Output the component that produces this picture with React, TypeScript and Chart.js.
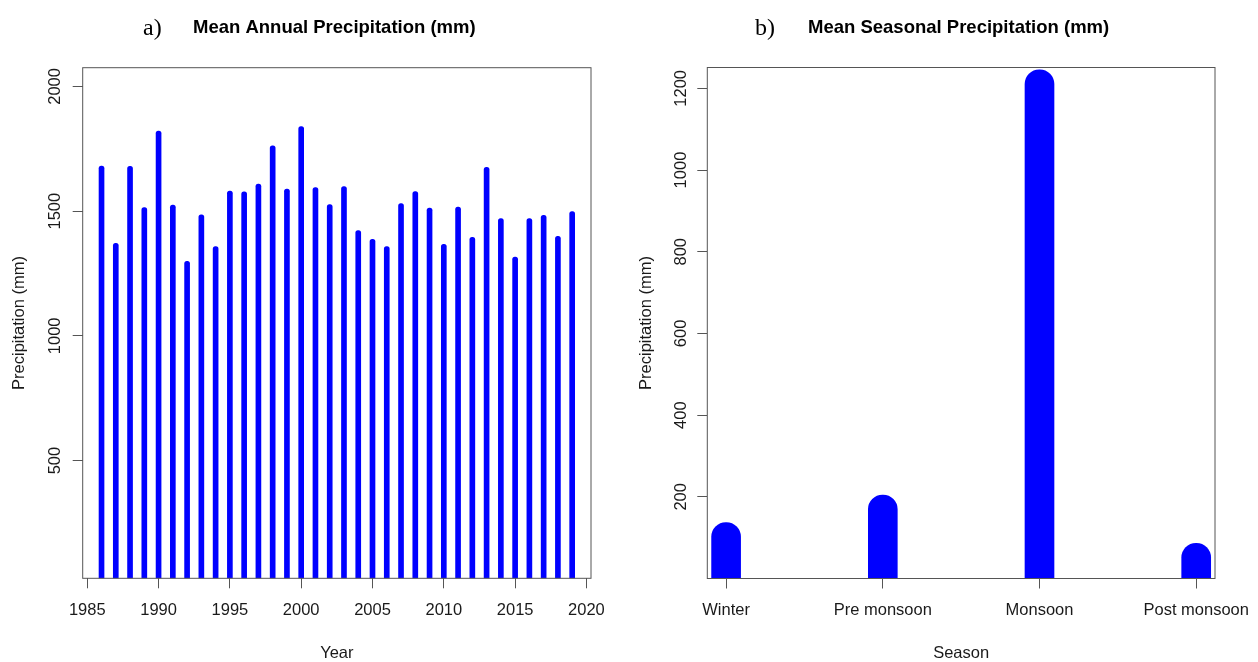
import React, { useEffect, useRef } from "react";
import { Chart, registerables } from "chart.js";

Chart.register(...registerables);

// ---- Data ----
const years = [
  1986, 1987, 1988, 1989, 1990, 1991, 1992, 1993, 1994, 1995, 1996, 1997,
  1998, 1999, 2000, 2001, 2002, 2003, 2004, 2005, 2006, 2007, 2008, 2009,
  2010, 2011, 2012, 2013, 2014, 2015, 2016, 2017, 2018, 2019,
];
const annualPrecip = [
  1681, 1371, 1680, 1514, 1821, 1524, 1299, 1485, 1358, 1580, 1577, 1608,
  1762, 1588, 1839, 1594, 1526, 1598, 1422, 1387, 1358, 1530, 1578, 1512,
  1367, 1516, 1395, 1676, 1470, 1316, 1470, 1483, 1399, 1498,
];
const yearTicks = [1985, 1990, 1995, 2000, 2005, 2010, 2015, 2020];
const annualYTicks = [500, 1000, 1500, 2000];

const seasons = ["Winter", "Pre monsoon", "Monsoon", "Post monsoon"];
const seasonPos = [1, 2, 3, 4];
const seasonalPrecip = [137, 204, 1245, 86];
const seasonalYTicks = [200, 400, 600, 800, 1000, 1200];

// ---- Styles ----
const SANS = "'Liberation Sans', Arial, Helvetica, sans-serif";
const SERIF = "'Liberation Serif', 'Times New Roman', serif";
const TEXT = "#1a1a1a";
const AXIS = "#555555";
const BLUE = "#0000ff";
const W = 1258;
const H = 662;

type PanelCfg = {
  letter: string;
  letterX: number;
  title: string;
  titleX: number;
  yTitle: string;
  yTitleX: number;
  yLabelOffset: number;
  xTitle: string;
};

function framePlugin(cfg: PanelCfg) {
  return {
    id: "frame_" + cfg.letter,
    afterDraw(chart: any) {
      const ctx = chart.ctx as CanvasRenderingContext2D;
      const a = chart.chartArea;
      ctx.save();
      // box
      ctx.strokeStyle = AXIS;
      ctx.lineWidth = 1;
      ctx.strokeRect(a.left, a.top, a.right - a.left, a.bottom - a.top);
      // y tick labels (rotated, R style)
      const ys = chart.scales.y;
      ctx.fillStyle = TEXT;
      ctx.font = `16.5px ${SANS}`;
      ctx.textAlign = "center";
      ctx.textBaseline = "middle";
      ys.ticks.forEach((t: any) => {
        const py = ys.getPixelForValue(t.value);
        ctx.save();
        ctx.translate(a.left - cfg.yLabelOffset, py);
        ctx.rotate(-Math.PI / 2);
        ctx.fillText(String(t.value), 0, 0);
        ctx.restore();
      });
      // y title
      ctx.save();
      ctx.translate(cfg.yTitleX, (a.top + a.bottom) / 2);
      ctx.rotate(-Math.PI / 2);
      ctx.fillText(cfg.yTitle, 0, 0);
      ctx.restore();
      // x title
      ctx.fillText(cfg.xTitle, (a.left + a.right) / 2, 653);
      // panel letter
      ctx.textAlign = "left";
      ctx.font = `24px ${SERIF}`;
      ctx.fillStyle = "#000";
      ctx.fillText(cfg.letter, cfg.letterX, 29);
      // title
      ctx.font = `bold 18.5px ${SANS}`;
      ctx.fillText(cfg.title, cfg.titleX, 28);
      ctx.restore();
    },
  };
}

function axisGrid() {
  return {
    offset: false,
    drawOnChartArea: false,
    drawTicks: true,
    tickLength: 10,
    tickColor: AXIS,
    tickWidth: 1,
  };
}

function fixX(height: number) {
  return (s: any) => {
    s.height = height;
    s.paddingLeft = 0;
    s.paddingRight = 0;
    s.paddingTop = 0;
    s.paddingBottom = 0;
  };
}

function fixY(width: number) {
  return (s: any) => {
    s.width = width;
    s.paddingLeft = 0;
    s.paddingRight = 0;
    s.paddingTop = 0;
    s.paddingBottom = 0;
  };
}

export default function App() {
  const leftRef = useRef<HTMLCanvasElement | null>(null);
  const rightRef = useRef<HTMLCanvasElement | null>(null);

  useEffect(() => {
    if (!leftRef.current || !rightRef.current) return;

    const left = new Chart(leftRef.current, {
      type: "bar",
      data: {
        datasets: [
          {
            data: years.map((y, i) => ({ x: y, y: annualPrecip[i] })),
            backgroundColor: BLUE,
            borderWidth: 0,
            barThickness: 5,
            borderRadius: 2.5,
            borderSkipped: "start",
          } as any,
        ],
      },
      options: {
        animation: false,
        responsive: false,
        events: [],
        layout: { padding: { left: 0, top: 67.7, right: 29, bottom: 0 } },
        plugins: {
          legend: { display: false },
          tooltip: { enabled: false },
          title: { display: false },
        },
        scales: {
          x: {
            type: "linear",
            min: 1984.68,
            max: 2020.32,
            offset: false,
            grid: axisGrid(),
            border: { display: false },
            ticks: {
              padding: 12,
              autoSkip: false,
              maxRotation: 0,
              minRotation: 0,
              color: TEXT,
              font: { family: SANS, size: 16.5 },
              callback: (v: any) => String(v),
            },
            afterBuildTicks: (s: any) => {
              s.ticks = yearTicks.map((v) => ({ value: v }));
            },
            afterFit: fixX(H - 578.3),
          },
          y: {
            type: "linear",
            min: 28,
            max: 2075,
            grid: axisGrid(),
            border: { display: false },
            ticks: { display: false },
            afterBuildTicks: (s: any) => {
              s.ticks = annualYTicks.map((v) => ({ value: v }));
            },
            afterFit: fixY(82.7),
          },
        } as any,
      },
      plugins: [
        framePlugin({
          letter: "a)",
          letterX: 143,
          title: "Mean Annual Precipitation (mm)",
          titleX: 193,
          yTitle: "Precipitation (mm)",
          yTitleX: 19,
          yLabelOffset: 27,
          xTitle: "Year",
        }),
      ],
    });

    const right = new Chart(rightRef.current, {
      type: "bar",
      data: {
        datasets: [
          {
            data: seasonPos.map((p, i) => ({ x: p, y: seasonalPrecip[i] })),
            backgroundColor: BLUE,
            borderWidth: 0,
            barThickness: 29,
            borderRadius: 14.5,
            borderSkipped: "start",
          } as any,
        ],
      },
      options: {
        animation: false,
        responsive: false,
        events: [],
        layout: { padding: { left: 0, top: 67.5, right: 638 - 595, bottom: 0 } },
        plugins: {
          legend: { display: false },
          tooltip: { enabled: false },
          title: { display: false },
        },
        scales: {
          x: {
            type: "linear",
            min: 0.88,
            max: 4.12,
            offset: false,
            grid: axisGrid(),
            border: { display: false },
            ticks: {
              padding: 12,
              autoSkip: false,
              maxRotation: 0,
              minRotation: 0,
              color: TEXT,
              font: { family: SANS, size: 16.5 },
              callback: (v: any) => seasons[Math.round(v) - 1] ?? "",
            },
            afterBuildTicks: (s: any) => {
              s.ticks = seasonPos.map((v) => ({ value: v }));
            },
            afterFit: fixX(H - 578.5),
          },
          y: {
            type: "linear",
            min: 0,
            max: 1251,
            grid: axisGrid(),
            border: { display: false },
            ticks: { display: false },
            afterBuildTicks: (s: any) => {
              s.ticks = seasonalYTicks.map((v) => ({ value: v }));
            },
            afterFit: fixY(87.3),
          },
        } as any,
      },
      plugins: [
        framePlugin({
          letter: "b)",
          letterX: 135,
          title: "Mean Seasonal Precipitation (mm)",
          titleX: 188,
          yTitle: "Precipitation (mm)",
          yTitleX: 26,
          yLabelOffset: 26,
          xTitle: "Season",
        }),
      ],
    });

    return () => {
      left.destroy();
      right.destroy();
    };
  }, []);

  return (
    <div
      style={{
        position: "absolute",
        left: 0,
        top: 0,
        width: W,
        height: H,
        background: "#fff",
        overflow: "hidden",
      }}
    >
      <canvas
        ref={leftRef}
        width={620}
        height={H}
        style={{ position: "absolute", left: 0, top: 0, width: 620, height: H }}
      />
      <canvas
        ref={rightRef}
        width={638}
        height={H}
        style={{ position: "absolute", left: 620, top: 0, width: 638, height: H }}
      />
    </div>
  );
}
